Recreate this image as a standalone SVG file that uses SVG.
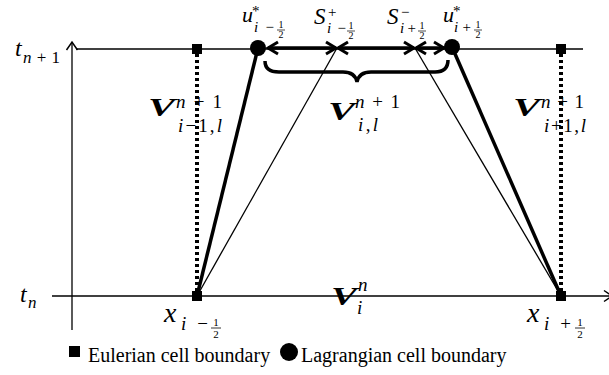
<svg xmlns="http://www.w3.org/2000/svg" width="609" height="375" viewBox="0 0 609 375">
<defs>
<marker id="ah" viewBox="-12 -8 14 16" refX="0" refY="0" markerWidth="14" markerHeight="16" markerUnits="userSpaceOnUse" orient="auto-start-reverse">
<path d="M-10 -6 L0 0 L-10 6" fill="none" stroke="#000" stroke-width="3"/>
</marker>
<marker id="ax" viewBox="-10 -7 12 14" refX="0" refY="0" markerWidth="12" markerHeight="14" markerUnits="userSpaceOnUse" orient="auto">
<path d="M-8 -5.5 L0 0 L-8 5.5" fill="none" stroke="#000" stroke-width="1.5"/>
</marker>
</defs>
<rect width="609" height="375" fill="#fff"/>

<g id="connectors" fill="none" stroke="#000">
<g stroke-width="1.3">
<line id="axis-t" x1="72" y1="330" x2="72" y2="42" marker-end="url(#ax)"/>
<line id="axis-x" x1="52" y1="296" x2="612" y2="296" marker-end="url(#ax)"/>
<line id="line-tn1" x1="76" y1="49" x2="583" y2="49"/>
<line x1="197" y1="296" x2="337" y2="48"/>
<line x1="561" y1="296" x2="415" y2="48"/>
</g>
<g stroke-width="4" stroke-dasharray="3 3">
<line x1="197" y1="54" x2="197" y2="291"/>
<line x1="561" y1="54" x2="561" y2="291"/>
</g>
<g stroke-width="3.5">
<line x1="197" y1="296" x2="258" y2="48"/>
<line x1="561" y1="296" x2="452" y2="47"/>
<line x1="268" y1="48" x2="336" y2="48" marker-start="url(#ah)" marker-end="url(#ah)"/>
<line x1="338" y1="48" x2="414" y2="48" marker-start="url(#ah)" marker-end="url(#ah)"/>
<line x1="416" y1="48" x2="444" y2="48" marker-start="url(#ah)" marker-end="url(#ah)"/>
<path id="brace" d="M265 61 Q265 72 279 72 L343 72 Q355 72 357 82 Q359 72 371 72 L435 72 Q448 72 448 60"/>
</g>
</g>

<g id="node-eul-tl"><rect x="192" y="44" width="10" height="10"/></g>
<g id="node-eul-tr"><rect x="556" y="44" width="10" height="10"/></g>
<g id="node-eul-bl"><rect x="192" y="291" width="10" height="10"/></g>
<g id="node-eul-br"><rect x="556" y="291" width="10" height="10"/></g>
<g id="node-lag-l"><circle cx="258" cy="48" r="8"/></g>
<g id="node-lag-r"><circle cx="452" cy="47" r="8"/></g>

<g id="label-tn1"><text font-family="Liberation Serif" font-style="italic" x="15" y="56" font-size="24">t</text><text font-family="Liberation Serif" font-style="italic" x="23" y="63" font-size="17" textLength="37" lengthAdjust="spacing">n<tspan font-style="normal">+1</tspan></text></g>
<g id="label-tn"><text font-family="Liberation Serif" font-style="italic" x="20" y="302" font-size="24">t</text><text font-family="Liberation Serif" font-style="italic" x="28" y="308" font-size="17">n</text></g>

<g id="label-u-left"><text font-family="Liberation Serif" font-style="italic" x="242" y="22" font-size="22">u</text><text font-family="Liberation Serif" x="252" y="16" font-size="15">*</text><text font-family="Liberation Serif" font-style="italic" x="254" y="32" font-size="15" textLength="20" lengthAdjust="spacing">i<tspan font-style="normal">−</tspan></text><text font-family="Liberation Serif" font-size="10" text-anchor="middle" x="281" y="28">1</text><line x1="277" y1="30" x2="285" y2="30" stroke="#000" stroke-width="0.7"/><text font-family="Liberation Serif" font-size="10" text-anchor="middle" x="281" y="38">2</text></g>

<g id="label-s-plus"><text font-family="Liberation Serif" font-style="italic" x="314" y="24" font-size="23">S</text><text font-family="Liberation Serif" x="328" y="17" font-size="15">+</text><text font-family="Liberation Serif" font-style="italic" x="327" y="33" font-size="15" textLength="19" lengthAdjust="spacing">i<tspan font-style="normal">−</tspan></text><text font-family="Liberation Serif" font-size="10" text-anchor="middle" x="351" y="29">1</text><line x1="347" y1="31" x2="355" y2="31" stroke="#000" stroke-width="0.7"/><text font-family="Liberation Serif" font-size="10" text-anchor="middle" x="351" y="39">2</text></g>

<g id="label-s-minus"><text font-family="Liberation Serif" font-style="italic" x="387" y="24" font-size="23">S</text><text font-family="Liberation Serif" x="401" y="17" font-size="15">−</text><text font-family="Liberation Serif" font-style="italic" x="400" y="33" font-size="15" textLength="16" lengthAdjust="spacing">i<tspan font-style="normal">+</tspan></text><text font-family="Liberation Serif" font-size="10" text-anchor="middle" x="422" y="29">1</text><line x1="418" y1="31" x2="426" y2="31" stroke="#000" stroke-width="0.7"/><text font-family="Liberation Serif" font-size="10" text-anchor="middle" x="422" y="39">2</text></g>

<g id="label-u-right"><text font-family="Liberation Serif" font-style="italic" x="443" y="22" font-size="22">u</text><text font-family="Liberation Serif" x="453" y="16" font-size="15">*</text><text font-family="Liberation Serif" font-style="italic" x="454" y="32" font-size="15" textLength="17" lengthAdjust="spacing">i<tspan font-style="normal">+</tspan></text><text font-family="Liberation Serif" font-size="10" text-anchor="middle" x="478" y="28">1</text><line x1="474" y1="30" x2="482" y2="30" stroke="#000" stroke-width="0.7"/><text font-family="Liberation Serif" font-size="10" text-anchor="middle" x="478" y="38">2</text></g>

<g id="label-V-im1"><text font-family="Liberation Serif" font-style="italic" font-weight="bold" font-size="25" x="148" y="116" textLength="27" lengthAdjust="spacingAndGlyphs">V</text><text font-family="Liberation Serif" font-style="italic" x="176" y="108" font-size="19" textLength="46" lengthAdjust="spacing">n<tspan font-style="normal">+1</tspan></text><text font-family="Liberation Serif" font-style="italic" x="178" y="132" font-size="19" textLength="44" lengthAdjust="spacing">i<tspan font-style="normal">−1,</tspan>l</text></g>

<g id="label-V-i"><text font-family="Liberation Serif" font-style="italic" font-weight="bold" font-size="25" x="328" y="120" textLength="27" lengthAdjust="spacingAndGlyphs">V</text><text font-family="Liberation Serif" font-style="italic" x="355" y="108" font-size="19" textLength="45" lengthAdjust="spacing">n<tspan font-style="normal">+1</tspan></text><text font-family="Liberation Serif" font-style="italic" x="358" y="131" font-size="19" textLength="20" lengthAdjust="spacing">i<tspan font-style="normal">,</tspan>l</text></g>

<g id="label-V-ip1"><text font-family="Liberation Serif" font-style="italic" font-weight="bold" font-size="25" x="513" y="116" textLength="27" lengthAdjust="spacingAndGlyphs">V</text><text font-family="Liberation Serif" font-style="italic" x="541" y="108" font-size="19" textLength="43" lengthAdjust="spacing">n<tspan font-style="normal">+1</tspan></text><text font-family="Liberation Serif" font-style="italic" x="544" y="132" font-size="19" textLength="42" lengthAdjust="spacing">i<tspan font-style="normal">+1,</tspan>l</text></g>

<g id="label-V-n"><text font-family="Liberation Serif" font-style="italic" font-weight="bold" font-size="25" x="331" y="305" textLength="26" lengthAdjust="spacingAndGlyphs">V</text><text font-family="Liberation Serif" font-style="italic" x="358" y="291" font-size="19">n</text><text font-family="Liberation Serif" font-style="italic" x="357" y="314" font-size="19">i</text></g>

<g id="label-x-left"><text font-family="Liberation Serif" font-style="italic" x="164" y="322" font-size="28">x</text><text font-family="Liberation Serif" font-style="italic" x="181" y="330" font-size="19" textLength="27" lengthAdjust="spacing">i<tspan font-style="normal">−</tspan></text><text font-family="Liberation Serif" font-size="11" text-anchor="middle" x="216" y="326">1</text><line x1="211" y1="328" x2="221" y2="328" stroke="#000" stroke-width="0.8"/><text font-family="Liberation Serif" font-size="11" text-anchor="middle" x="216" y="338">2</text></g>

<g id="label-x-right"><text font-family="Liberation Serif" font-style="italic" x="527" y="322" font-size="28">x</text><text font-family="Liberation Serif" font-style="italic" x="544" y="330" font-size="19" textLength="27" lengthAdjust="spacing">i<tspan font-style="normal">+</tspan></text><text font-family="Liberation Serif" font-size="11" text-anchor="middle" x="580" y="326">1</text><line x1="575" y1="328" x2="585" y2="328" stroke="#000" stroke-width="0.8"/><text font-family="Liberation Serif" font-size="11" text-anchor="middle" x="580" y="338">2</text></g>

<g id="legend">
<rect x="69" y="346" width="11" height="11"/>
<text font-family="Liberation Serif" font-size="20" x="88" y="362">Eulerian cell boundary</text>
<circle cx="289" cy="352" r="9"/>
<text font-family="Liberation Serif" font-size="20" x="301" y="362">Lagrangian cell boundary</text>
</g>
</svg>
